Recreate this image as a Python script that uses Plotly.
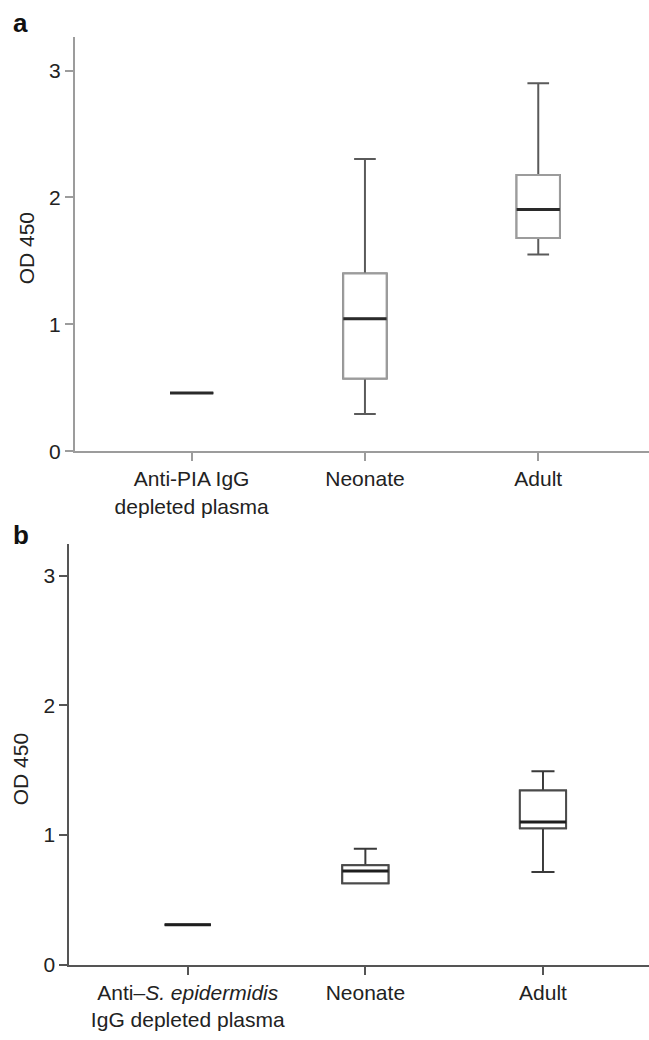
import plotly.graph_objects as go

# ---------------- data ----------------
positions = [0, 1, 2]
labels_a = ["Anti-PIA IgG<br>depleted plasma", "Neonate", "Adult"]
labels_b = ["Anti\u2013<i>S. epidermidis</i><br>IgG depleted plasma", "Neonate", "Adult"]

a_lower = [0.458, 0.294, 1.551]
a_q1 = [0.458, 0.572, 1.681]
a_median = [0.458, 1.043, 1.905]
a_q3 = [0.458, 1.400, 2.178]
a_upper = [0.458, 2.303, 2.900]

b_lower = [0.307, 0.628, 0.715]
b_q1 = [0.307, 0.628, 1.051]
b_median = [0.307, 0.722, 1.100]
b_q3 = [0.307, 0.767, 1.342]
b_upper = [0.307, 0.894, 1.491]

y_ticks = [0, 1, 2, 3]
y_title = "OD 450"
panel_letters = ["a", "b"]

FONT = "Liberation Sans, Arial, Helvetica, sans-serif"

fig = go.Figure()


def add_panel(xa, ya, lower, q1, med, q3, upper, width, whisk_col, box_col, med_col):
    common = dict(x=positions, xaxis=xa, yaxis=ya, width=width, boxpoints=False,
                  fillcolor="white", whiskerwidth=0.5, showlegend=False, hoverinfo="skip")
    # whiskers (full box)
    fig.add_trace(go.Box(q1=q1, median=med, q3=q3, lowerfence=lower, upperfence=upper,
                         line=dict(color=whisk_col, width=2), **common))
    # box outline
    fig.add_trace(go.Box(q1=q1, median=med, q3=q3, lowerfence=q1, upperfence=q3,
                         line=dict(color=box_col, width=2), **common))
    # median lines
    fig.add_trace(go.Box(q1=med, median=med, q3=med, lowerfence=med, upperfence=med,
                         line=dict(color=med_col, width=3), **common))


add_panel("x", "y", a_lower, a_q1, a_median, a_q3, a_upper, 0.25,
          "#5a5a5a", "#9c9c9c", "#2a2a2a")
add_panel("x2", "y2", b_lower, b_q1, b_median, b_q3, b_upper, 0.26,
          "#3a3a3a", "#4a4a4a", "#1e1e1e")

tickfont = dict(family=FONT, size=21, color="#222222")
titlefont = dict(family=FONT, size=21, color="#222222")
letterfont = dict(family=FONT, size=26, color="#111111")
W, H = 649, 1040

axis_common = dict(showline=True, linewidth=2, ticks="outside", ticklen=8, tickwidth=2,
                   showgrid=False, zeroline=False, tickfont=tickfont)

fig.update_layout(
    width=W, height=H,
    margin=dict(l=0, r=0, t=0, b=0),
    paper_bgcolor="white", plot_bgcolor="white",
    boxmode="overlay",
    font=dict(family=FONT, color="#222222"),
    xaxis=dict(domain=[75 / W, 1], range=[-0.673, 2.639], anchor="y",
               tickvals=positions, ticktext=labels_a,
               linecolor="#9c9c9c", tickcolor="#9c9c9c", **axis_common),
    yaxis=dict(domain=[1 - 456 / H, 1 - 37 / H], range=[0, 3.268], anchor="x",
               tickvals=y_ticks,
               linecolor="#9c9c9c", tickcolor="#9c9c9c", **axis_common),
    xaxis2=dict(domain=[69.3 / W, 1], range=[-0.667, 2.597], anchor="y2",
                tickvals=positions, ticktext=labels_b,
                linecolor="#555555", tickcolor="#555555", **axis_common),
    yaxis2=dict(domain=[1 - 975 / H, 1 - 550 / H], range=[0, 3.242], anchor="x2",
                tickvals=y_ticks,
                linecolor="#555555", tickcolor="#555555", **axis_common),
    annotations=[
        dict(text=f"<b>{panel_letters[0]}</b>", x=11 / W, y=1 - 23 / H,
             xref="paper", yref="paper", xanchor="left", yanchor="middle",
             showarrow=False, font=letterfont),
        dict(text=f"<b>{panel_letters[1]}</b>", x=11 / W, y=1 - 541 / H,
             xref="paper", yref="paper", xanchor="left", yanchor="middle",
             showarrow=False, font=letterfont),
        dict(text=y_title, textangle=-90, x=26 / W, y=1 - 251 / H,
             xref="paper", yref="paper", xanchor="center", yanchor="middle",
             showarrow=False, font=titlefont),
        dict(text=y_title, textangle=-90, x=20.5 / W, y=1 - 778 / H,
             xref="paper", yref="paper", xanchor="center", yanchor="middle",
             showarrow=False, font=titlefont),
    ],
)

fig.write_html(
    "out.html",
    config={"displayModeBar": False},
    post_script=(
        "document.body.style.margin='0';"
        "document.body.style.overflow='hidden';"
        "document.documentElement.style.overflow='hidden';"
    ),
)
